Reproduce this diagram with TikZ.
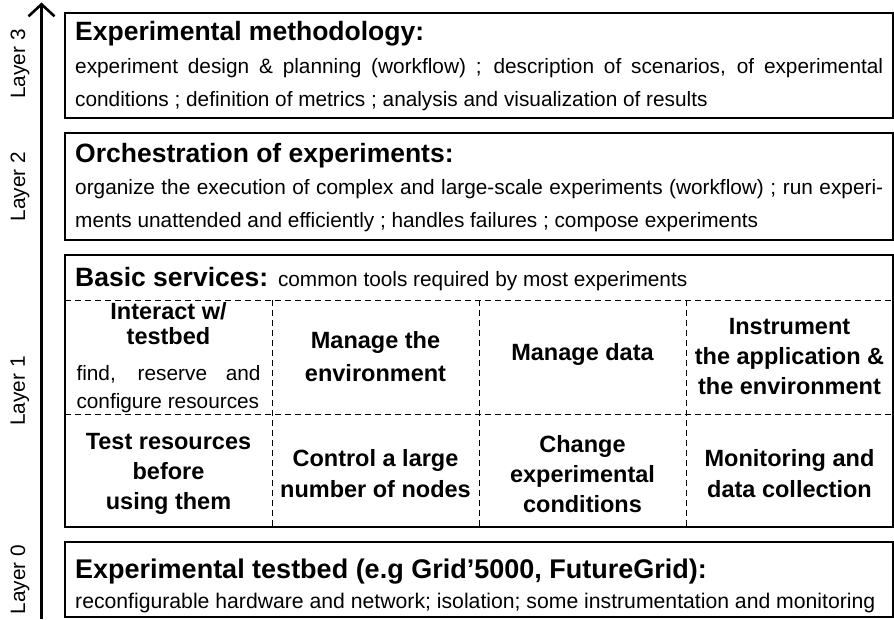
\documentclass[tikz,border=0pt]{standalone}
\usepackage{fontspec}
\setmainfont{Liberation Sans}
\usetikzlibrary{arrows.meta}

\tikzset{
  layerbox/.style={line width=2pt},
  celldash/.style={line width=0.8pt, dash pattern=on 6pt off 4pt},
  layername/.style={rotate=90, inner sep=0.75pt, font=\fontsize{20.8}{24}\selectfont},
  headtext/.style={anchor=base west, inner sep=0.75pt, font=\bfseries\fontsize{26.5}{30}\selectfont},
  bodytext/.style={anchor=base west, inner sep=0.75pt, text width=808pt, align=justify, font=\fontsize{20.8}{33}\selectfont},
  celltext/.style={inner sep=0.75pt, align=center, font=\bfseries\fontsize{23.5}{30}\selectfont},
}

\begin{document}
\begin{tikzpicture}[x=1pt,y=1pt,yscale=-1,xscale=1]
\useasboundingbox (0,0) rectangle (894,619);

%Straight Lines: layer axis
\coordinate (axisfoot) at (41.5,619);
\coordinate (axistip) at (41.5,2.5);
\draw [line width=3pt, -{Straight Barb[length=12pt,width=26pt,line width=2.6pt]}] (axisfoot) -- (axistip);

% Text Node: layer names
\node [layername] (lname3) at (20,64) {Layer 3};
\node [layername] (lname2) at (20,186.5) {Layer 2};
\node [layername] (lname1) at (20,391) {Layer 1};
\node [layername] (lname0) at (20,579.5) {Layer 0};

%Shape: Rectangle (layer 3)
\draw [layerbox] (65,13) rectangle (893,118);
\draw (74.25,40) node [headtext] (methtitle) {Experimental methodology:};
\draw (74.25,73) node [bodytext] (methbody) {experiment design \& planning (workflow) ; description of scenarios, of experimental\linebreak conditions ; definition of metrics ; analysis and visualization of results};

%Shape: Rectangle (layer 2)
\draw [layerbox] (65,133) rectangle (893,240);
\draw (74.25,162) node [headtext] (orchtitle) {Orchestration of experiments:};
\draw (74.25,194) node [bodytext] (orchbody) {organize the execution of complex and large-scale experiments (workflow) ; run experi-\linebreak ments unattended and efficiently ; handles failures ; compose experiments};

%Shape: Grid (layer 1)
\draw [celldash] (65,300) -- (893,300);
\draw [celldash] (65,414) -- (893,414);
\foreach \cx in {272,479,686}
  \draw [celldash] (\cx,300) -- (\cx,527);
\draw [layerbox] (65,255) rectangle (893,527);
\draw (74.25,286) node [headtext] (basictitle) {Basic services: {\mdseries\fontsize{20.8}{24}\selectfont common tools required by most experiments}};

% Text Node: first row
\draw (168.5,302) node [celltext, anchor=north, font=\bfseries\fontsize{23.5}{24.5}\selectfont] (interact) {Interact w/\\testbed};
\draw (168.5,380) node [anchor=base, inner sep=0.75pt, text width=184pt, align=justify, font=\fontsize{20.8}{28}\selectfont] (interactsub) {find, reserve and\linebreak configure resources};
\draw (375.5,357) node [celltext, font=\bfseries\fontsize{23.5}{33}\selectfont] (manageenv) {Manage the\\environment};
\draw (582.5,354) node [celltext] (managedata) {Manage data};
\draw (789.5,357) node [celltext] (instrument) {Instrument\\the application \&\\the environment};

% Text Node: second row
\draw (168.5,474) node [celltext] (testres) {Test resources\\before\\using them};
\draw (375.5,474) node [celltext, font=\bfseries\fontsize{23.5}{31}\selectfont] (control) {Control a large\\number of nodes};
\draw (582.5,474) node [celltext] (change) {Change\\experimental\\conditions};
\draw (789.5,473.5) node [celltext, font=\bfseries\fontsize{23.5}{31}\selectfont] (monitor) {Monitoring and\\data collection};

%Shape: Rectangle (layer 0)
\draw [layerbox] (65,542) rectangle (893,617);
\draw (74.25,578) node [headtext, font=\bfseries\fontsize{27}{30}\selectfont] (testbedtitle) {Experimental testbed (e.g Grid’5000, FutureGrid):};
\draw (74.25,608) node [anchor=base west, inner sep=0.75pt, font=\fontsize{21.2}{24}\selectfont] (testbedbody) {reconfigurable hardware and network; isolation; some instrumentation and monitoring};

\end{tikzpicture}
\end{document}
